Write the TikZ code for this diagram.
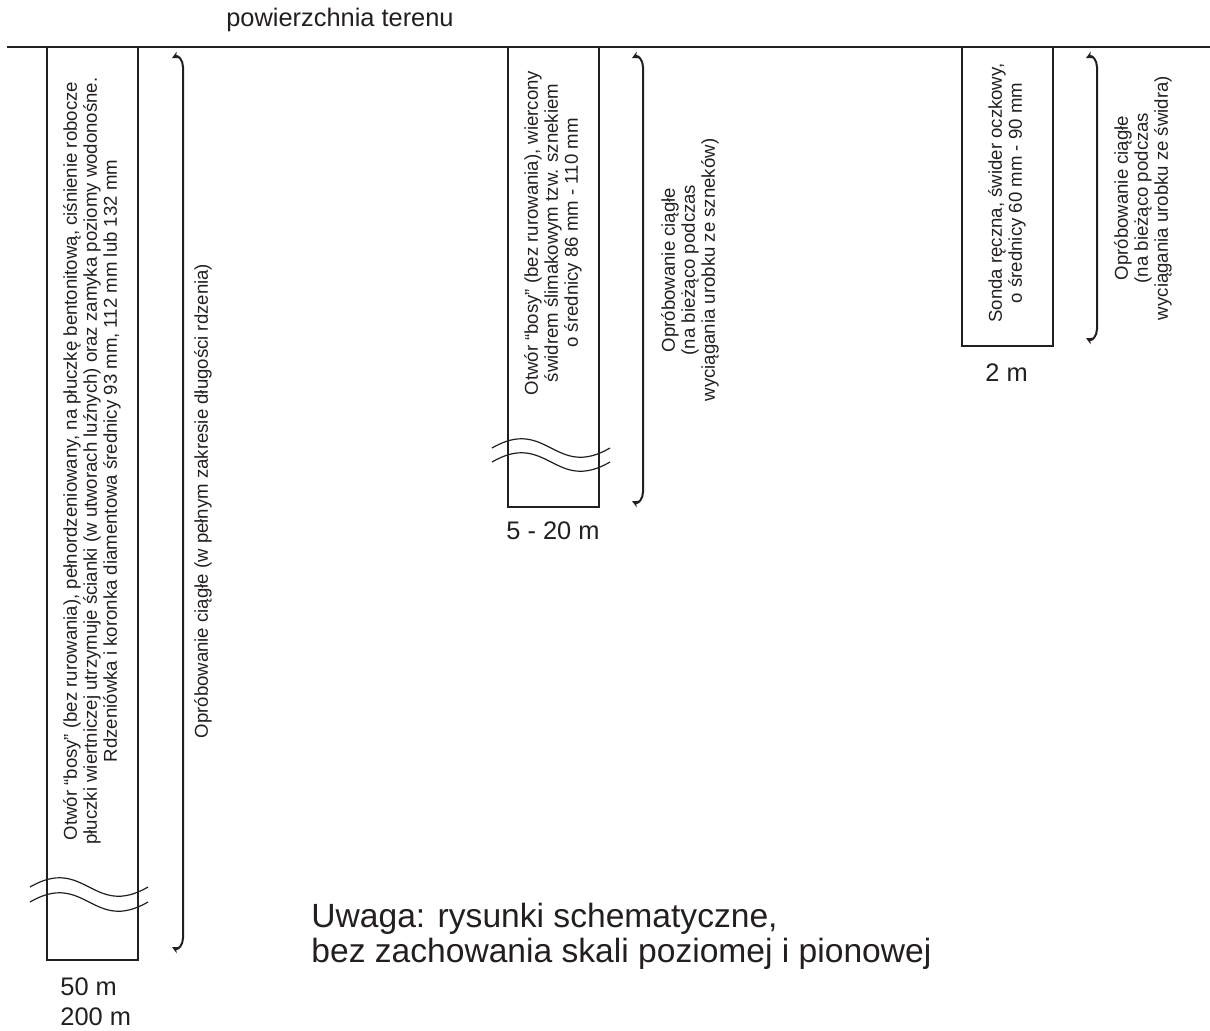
\documentclass[tikz,border=0pt]{standalone}
\usepackage{fontspec}
\setmainfont{Liberation Sans}
\usetikzlibrary{arrows.meta, positioning}
\definecolor{ink}{RGB}{35,31,32}
\tikzset{
  otwor/.style={draw=ink, line width=0.6pt},
  fala/.style={draw=ink, line width=0.6pt},
  klamra/.style={draw=ink, line width=1pt, {Stealth[length=3.5pt,width=3.5pt]}-{Stealth[length=3.5pt,width=3.5pt]}},
  opis/.style={text=ink, font=\fontsize{9.3}{10}\selectfont, align=center, rotate=90, inner sep=0pt},
  glebokosc/.style={text=ink, font=\fontsize{12.7}{15}\selectfont, align=left, inner sep=0pt},
  uwagi/.style={text=ink, font=\fontsize{16.8}{17.5}\selectfont, align=left, inner sep=0pt}
}
\begin{document}
\begin{tikzpicture}[x=0.5pt, y=-0.5pt]
\useasboundingbox (0,0) rectangle (1210,1030);
% powierzchnia terenu
\draw[ink, line width=1pt] (7,47) -- (1210,47);
\node[glebokosc] (teren) at (340,20) {powierzchnia terenu};
% Otwór 1: rdzeniowany
\draw[otwor] (47,47) rectangle (138,960);
\node[opis] (opis1) at (92,461) {Otwór “bosy” (bez rurowania), pełnordzeniowany, na płuczkę bentonitową, ciśnienie robocze\\płuczki wiertniczej utrzymuje ścianki (w utworach luźnych) oraz zamyka poziomy wodonośne.\\Rdzeniówka i koronka diamentowa średnicy 93 mm, 112 mm lub 132 mm};
\node[glebokosc, anchor=west] (gl1) at (60,1002) {50 m\\200 m};
% Otwór 2: świder ślimakowy
\draw[otwor] (508,47) rectangle (599,507);
\node[opis] (opis2) at (553,233) {Otwór “bosy” (bez rurowania), wiercony\\świdrem ślimakowym tzw. sznekiem\\o średnicy 86 mm - 110 mm};
\node[glebokosc, anchor=west] (gl2) at (506,531) {5 - 20 m};
% Otwór 3: sonda ręczna
\draw[otwor] (962,47) rectangle (1053,346);
\node[opis] (opis3) at (1007,193) {Sonda ręczna, świder oczkowy,\\o średnicy 60 mm - 90 mm};
\node[glebokosc, anchor=west] (gl3) at (985,373) {2 m};
% przerwania otworów
\foreach \x/\y in {30/887, 30/902, 492/448, 492/462} {
    \draw[fala] (\x,\y) .. controls (\x+55,\y-32) and (\x+63,\y+32) .. (\x+118,\y);
}
% klamry opróbowania
\foreach \x/\b in {183/948, 643/502, 1097/339} {
    \draw[klamra] (\x-11,58) .. controls (\x-5,55) and (\x,60) .. (\x,67) -- (\x,\b-10) .. controls (\x,\b-3) and (\x-5,\b+2) .. (\x-11,\b-1);
}
\node[opis] (prob1) at (203,501) {Opróbowanie ciągłe (w pełnym zakresie długości rdzenia)};
\node[opis] (prob2) at (690,270) {Opróbowanie ciągłe\\(na bieżąco podczas\\wyciągania urobku ze szneków)};
\node[opis] (prob3) at (1143,198) {Opróbowanie ciągłe\\(na bieżąco podczas\\wyciągania urobku ze świdra)};
% uwaga
\node[uwagi, anchor=west] (uwaga) at (311,936) {Uwaga: rysunki schematyczne,\\bez zachowania skali poziomej i pionowej};
\end{tikzpicture}
\end{document}
